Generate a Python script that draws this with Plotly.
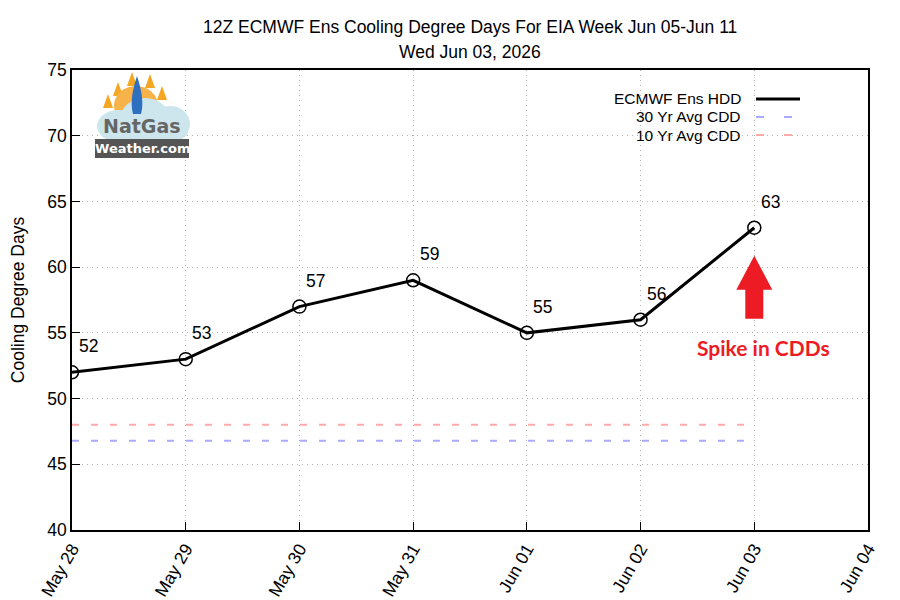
import plotly.graph_objects as go

# ---------------- data ----------------
dates = ["2026-05-28", "2026-05-29", "2026-05-30", "2026-05-31",
         "2026-06-01", "2026-06-02", "2026-06-03"]
ecmwf_cdd = [52, 53, 57, 59, 55, 56, 63]
avg30_cdd = [46.8] * 7
avg10_cdd = [48.0] * 7
title_line1 = "12Z ECMWF Ens Cooling Degree Days For EIA Week Jun 05-Jun 11"
title_line2 = "Wed Jun 03, 2026"

FONT = "Liberation Sans, Arial, sans-serif"
FS = 17.5

# plot area in pixels (for decorations only)
L, R, T, B = 72, 868, 70, 530
W, H = 900, 600


def px(x):
    return (x - L) / (R - L)


def py(y):
    return (B - y) / (B - T)


fig = go.Figure()

fig.add_trace(go.Scatter(x=dates, y=avg30_cdd, mode="lines",
                         line=dict(color="#aaaaff", width=2, dash="7px,12px"),
                         showlegend=False, hoverinfo="skip"))
fig.add_trace(go.Scatter(x=dates, y=avg10_cdd, mode="lines",
                         line=dict(color="#ffaaaa", width=2, dash="7px,12px"),
                         showlegend=False, hoverinfo="skip"))
fig.add_trace(go.Scatter(x=dates, y=ecmwf_cdd, mode="lines+markers",
                         line=dict(color="black", width=3),
                         marker=dict(symbol="circle-open", size=13, color="black",
                                     line=dict(width=1.5, color="black")),
                         showlegend=False))

annotations = []
for d, v in zip(dates, ecmwf_cdd):
    annotations.append(dict(x=d, y=v, xref="x", yref="y", text=str(v),
                            showarrow=False, xshift=16, yshift=26,
                            xanchor="center", yanchor="middle",
                            font=dict(family=FONT, size=FS, color="black")))


def paper_text(x, y, text, xanchor="center", **font):
    f = dict(family=FONT, size=FS, color="black")
    f.update(font)
    return dict(x=px(x), y=py(y), xref="paper", yref="paper", text=text,
                showarrow=False, xanchor=xanchor, yanchor="middle", font=f,
                borderpad=0)


# title
annotations.append(paper_text(470, 27, title_line1))
annotations.append(paper_text(470, 52, title_line2))

# legend (gnuplot style, text right aligned, sample to right)
legend_items = [("ECMWF Ens HDD", dict(color="black", width=3, dash="solid")),
                ("30 Yr Avg CDD", dict(color="#aaaaff", width=2, dash="8px,20px")),
                ("10 Yr Avg CDD", dict(color="#ffaaaa", width=2, dash="8px,20px"))]
shapes = []
for i, (name, ln) in enumerate(legend_items):
    yy = 99 + i * 18
    annotations.append(paper_text(742, yy, name, xanchor="right", size=15.5))
    shapes.append(dict(type="line", xref="paper", yref="paper",
                       x0=px(756), x1=px(800), y0=py(yy), y1=py(yy), line=ln))

# red arrow
shapes.append(dict(type="path", xref="x", yref="y", xsizemode="pixel", ysizemode="pixel",
                   xanchor="2026-06-03", yanchor=63,
                   path="M -9 -91 L 9 -91 L 9 -62 L 18 -62 L 0 -28 L -18 -62 L -9 -62 Z",
                   fillcolor="#ED1C24", line=dict(width=0)))
annotations.append(dict(x="2026-06-03", y=63, xref="x", yref="y", text="<b>Spike in CDDs</b>",
                        showarrow=False, xshift=9, yshift=-120,
                        xanchor="center", yanchor="middle",
                        font=dict(family="Lato, Open Sans, sans-serif", size=21, color="#ED1C24")))

# logo approximation
def rect(x0, y0, x1, y1):
    return dict(xref="paper", yref="paper", x0=px(x0), x1=px(x1), y0=py(y1), y1=py(y0))

for (cx, cy) in [(118, 90), (132, 80), (150, 82), (162, 94), (108, 102)]:
    shapes.append(dict(type="path", xref="paper", yref="paper", layer="above",
                       path=f"M {px(cx-5)} {py(cy+6)} L {px(cx)} {py(cy-8)} L {px(cx+5)} {py(cy+6)} Z",
                       fillcolor="#F5A623", line=dict(width=0)))
shapes.append(dict(type="circle", **rect(114, 86, 158, 126), fillcolor="#F7B24A",
                   line=dict(width=0), layer="above"))
for (x0, y0, x1, y1) in [(97, 110, 140, 142), (120, 98, 170, 140), (150, 106, 190, 142), (100, 120, 188, 145)]:
    shapes.append(dict(type="circle", **rect(x0, y0, x1, y1), fillcolor="#CDE6EE",
                       line=dict(width=0), layer="above"))
shapes.append(dict(type="path", xref="paper", yref="paper", layer="above",
                   path=f"M {px(137)} {py(76)} Q {px(145)} {py(100)} {px(141)} {py(114)} "
                        f"L {px(133)} {py(114)} Q {px(129)} {py(100)} {px(137)} {py(76)} Z",
                   fillcolor="#2F6FC0", line=dict(width=0)))
shapes.append(dict(type="rect", **rect(95, 139, 189, 158), fillcolor="#555555",
                   line=dict(width=0), layer="above"))
annotations.append(paper_text(142, 126, "<b>NatGas</b>", family="DejaVu Sans", size=19, color="#666666"))
annotations.append(paper_text(142, 148.5, "<b>Weather.com</b>", family="DejaVu Sans", size=13, color="white"))

fig.update_layout(
    width=W, height=H,
    margin=dict(l=L, r=W - R, t=T, b=H - B, autoexpand=False),
    paper_bgcolor="white", plot_bgcolor="white",
    font=dict(family=FONT, size=FS, color="black"),
    annotations=annotations, shapes=shapes,
    showlegend=False,
)
fig.update_xaxes(type="date", range=["2026-05-28", "2026-06-04"], dtick=86400000,
                 tick0="2026-05-28", tickformat="%b %d", tickangle=-60, automargin=False,
                 showgrid=True, gridcolor="#b0b0b0", griddash="1px,4px", gridwidth=1,
                 showline=True, linecolor="black", linewidth=1.5, mirror=True,
                 ticks="inside", ticklen=8, tickcolor="black",
                 tickfont=dict(family=FONT, size=FS), zeroline=False)
fig.update_yaxes(range=[40, 75], dtick=5, automargin=False,
                 showgrid=True, gridcolor="#b0b0b0", griddash="1px,4px", gridwidth=1,
                 showline=True, linecolor="black", linewidth=1.5, mirror=True,
                 ticks="inside", ticklen=8, tickcolor="black",
                 tickfont=dict(family=FONT, size=FS), zeroline=False,
                 title=dict(text="Cooling Degree Days", font=dict(family=FONT, size=FS),
                            standoff=18))

fig.write_html("out.html")
